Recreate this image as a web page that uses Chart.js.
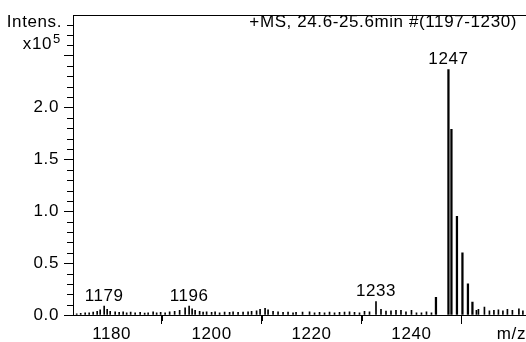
<!DOCTYPE html>
<html>
<head>
<meta charset="utf-8">
<script src="https://cdn.jsdelivr.net/npm/chart.js@4.4.0/dist/chart.umd.min.js"></script>
<style>
  html, body { margin: 0; padding: 0; background: #fff; }
</style>
</head>
<body>
<canvas id="msChart" width="526" height="342"></canvas>
<script>
// main isotope cluster (intensity in x10^5)
const peakMz  = [1244.9, 1247.4, 1248.0, 1249.1, 1250.2, 1251.3, 1252.2];
const peakInt = [0.17, 2.365, 1.79, 0.95, 0.60, 0.30, 0.125];

// small peaks / baseline noise
const noiseMz = [1173.0, 1173.8, 1174.7, 1175.5, 1176.3, 1177.1, 1177.7, 1178.5, 1179.1, 1179.7,
  1180.7, 1181.5, 1182.3, 1183.0, 1183.8, 1184.7, 1185.7, 1186.6, 1187.3, 1188.3,
  1189.0, 1189.8, 1190.7, 1191.6, 1192.6, 1193.6, 1194.7, 1195.5, 1196.1, 1196.7,
  1197.6, 1198.3, 1199.0, 1200.0, 1200.7, 1201.6, 1202.6, 1203.6, 1204.3, 1205.3,
  1206.3, 1207.3, 1208.0, 1209.0, 1209.7, 1210.7, 1211.3, 1212.3, 1213.3, 1214.3,
  1215.3, 1216.3, 1216.9, 1218.2, 1219.6, 1220.6, 1221.6, 1222.6, 1223.6, 1224.6,
  1225.6, 1226.6, 1227.6, 1228.6, 1229.6, 1230.6, 1231.6, 1232.9, 1233.9, 1234.9,
  1235.9, 1236.9, 1237.9, 1238.9, 1240.0, 1241.0, 1242.0, 1243.0, 1244.0,
  1253.0, 1253.4, 1254.6, 1255.6, 1256.5, 1257.4, 1258.3, 1259.2, 1260.2, 1261.5, 1262.3];
const noiseInt = [0.012, 0.015, 0.022, 0.02, 0.028, 0.035, 0.05, 0.086, 0.055, 0.035,
  0.03, 0.025, 0.03, 0.02, 0.028, 0.022, 0.025, 0.018, 0.022, 0.03,
  0.02, 0.025, 0.02, 0.03, 0.035, 0.045, 0.07, 0.086, 0.06, 0.045,
  0.035, 0.028, 0.03, 0.025, 0.03, 0.022, 0.028, 0.025, 0.03, 0.025,
  0.028, 0.03, 0.035, 0.04, 0.055, 0.065, 0.05, 0.035, 0.03, 0.025,
  0.028, 0.022, 0.025, 0.028, 0.03, 0.022, 0.025, 0.02, 0.028, 0.022,
  0.025, 0.028, 0.03, 0.025, 0.02, 0.035, 0.03, 0.13, 0.054, 0.038,
  0.04, 0.044, 0.044, 0.03, 0.044, 0.02, 0.022, 0.03, 0.02,
  0.045, 0.055, 0.076, 0.04, 0.045, 0.05, 0.04, 0.055, 0.045, 0.06, 0.04];

const labelMz   = [1178.5, 1195.5, 1232.9, 1247.4];
const labelText = ['1179', '1196', '1233', '1247'];

const xTicks = [1180, 1200, 1220, 1240, 1260];
const yTicks = [0, 0.5, 1.0, 1.5, 2.0, 2.5];
const spectrumTitle = '+MS, 24.6-25.6min #(1197-1230)';

const FONT = '"Liberation Sans", Arial, sans-serif';
Chart.defaults.font.family = FONT;
Chart.defaults.font.size = 17;
Chart.defaults.color = '#000';

function intensityAt(mz) {
  let i = peakMz.indexOf(mz);
  if (i >= 0) return peakInt[i];
  i = noiseMz.indexOf(mz);
  return i >= 0 ? noiseInt[i] : 0;
}

// canvas resize wipes context state, so re-apply the wider letter spacing each pass
const spacing = {
  id: 'spacing',
  beforeUpdate(chart) { chart.ctx.letterSpacing = '0.6px'; },
  beforeDraw(chart) { chart.ctx.letterSpacing = '0.6px'; }
};

const decor = {
  id: 'decor',
  afterDraw(chart) {
    const { ctx, chartArea: a, scales: { x, y } } = chart;
    ctx.save();
    ctx.strokeStyle = '#000';
    ctx.lineWidth = 1;
    ctx.beginPath();
    const top = Math.round(a.top) + 0.5;
    ctx.moveTo(a.left, top);
    ctx.lineTo(chart.width, top);
    for (let i = 1; i < 29; i++) {
      if (i % 5 === 0) continue;
      const py = Math.round(y.getPixelForValue(i / 10)) + 0.5;
      ctx.moveTo(a.left - 6, py);
      ctx.lineTo(a.left, py);
    }
    [1190, 1210, 1230, 1250].forEach(v => {
      const px = Math.round(x.getPixelForValue(v)) + 0.5;
      ctx.moveTo(px, a.bottom);
      ctx.lineTo(px, a.bottom + 6);
    });
    ctx.stroke();

    ctx.fillStyle = '#000';
    ctx.font = '17px ' + FONT;
    ctx.textBaseline = 'middle';
    ctx.textAlign = 'right';
    ctx.fillText('Intens.', 62, 22);
    ctx.fillText('x10', 52, 44);
    ctx.fillText(spectrumTitle, 517, 22);
    ctx.textAlign = 'left';
    ctx.font = '13px ' + FONT;
    ctx.fillText('5', 53, 39);

    ctx.font = '17px ' + FONT;
    ctx.textAlign = 'center';
    labelMz.forEach((mz, i) => {
      const px = x.getPixelForValue(mz);
      const py = y.getPixelForValue(intensityAt(mz));
      ctx.fillText(labelText[i], px, py - 10);
    });
    ctx.restore();
  }
};

new Chart(document.getElementById('msChart'), {
  type: 'bar',
  data: {
    datasets: [{
      data: noiseMz.map((m, i) => ({ x: m, y: noiseInt[i] })),
      backgroundColor: '#000',
      barThickness: 1,
      grouped: false
    }, {
      data: peakMz.map((m, i) => ({ x: m, y: peakInt[i] })),
      backgroundColor: '#000',
      barThickness: 1.6,
      grouped: false
    }]
  },
  options: {
    responsive: false,
    animation: false,
    layout: { padding: { top: 12, left: 0, right: 0, bottom: 0 } },
    plugins: { legend: { display: false }, tooltip: { enabled: false } },
    scales: {
      x: {
        type: 'linear',
        min: 1172.26,
        max: 1262.86,
        offset: false,
        afterBuildTicks: s => { s.ticks = xTicks.map(v => ({ value: v })); },
        afterFit: s => { s.height = 27; },
        ticks: {
          autoSkip: false,
          maxRotation: 0,
          padding: 0,
          callback: v => (v === 1260 ? 'm/z' : String(v))
        },
        grid: { drawOnChartArea: false, drawTicks: true, tickLength: 9, tickColor: '#000' },
        border: { color: '#000', width: 1 }
      },
      y: {
        min: 0,
        max: 2.89,
        afterBuildTicks: s => { s.ticks = yTicks.map(v => ({ value: v })); },
        afterFit: s => { s.width = 73; },
        ticks: {
          padding: 5,
          callback: v => (v <= 2.0 ? v.toFixed(1) : '')
        },
        grid: { drawOnChartArea: false, drawTicks: true, tickLength: 9, tickColor: '#000' },
        border: { color: '#000', width: 1 }
      }
    }
  },
  plugins: [spacing, decor]
});
</script>
</body>
</html>
